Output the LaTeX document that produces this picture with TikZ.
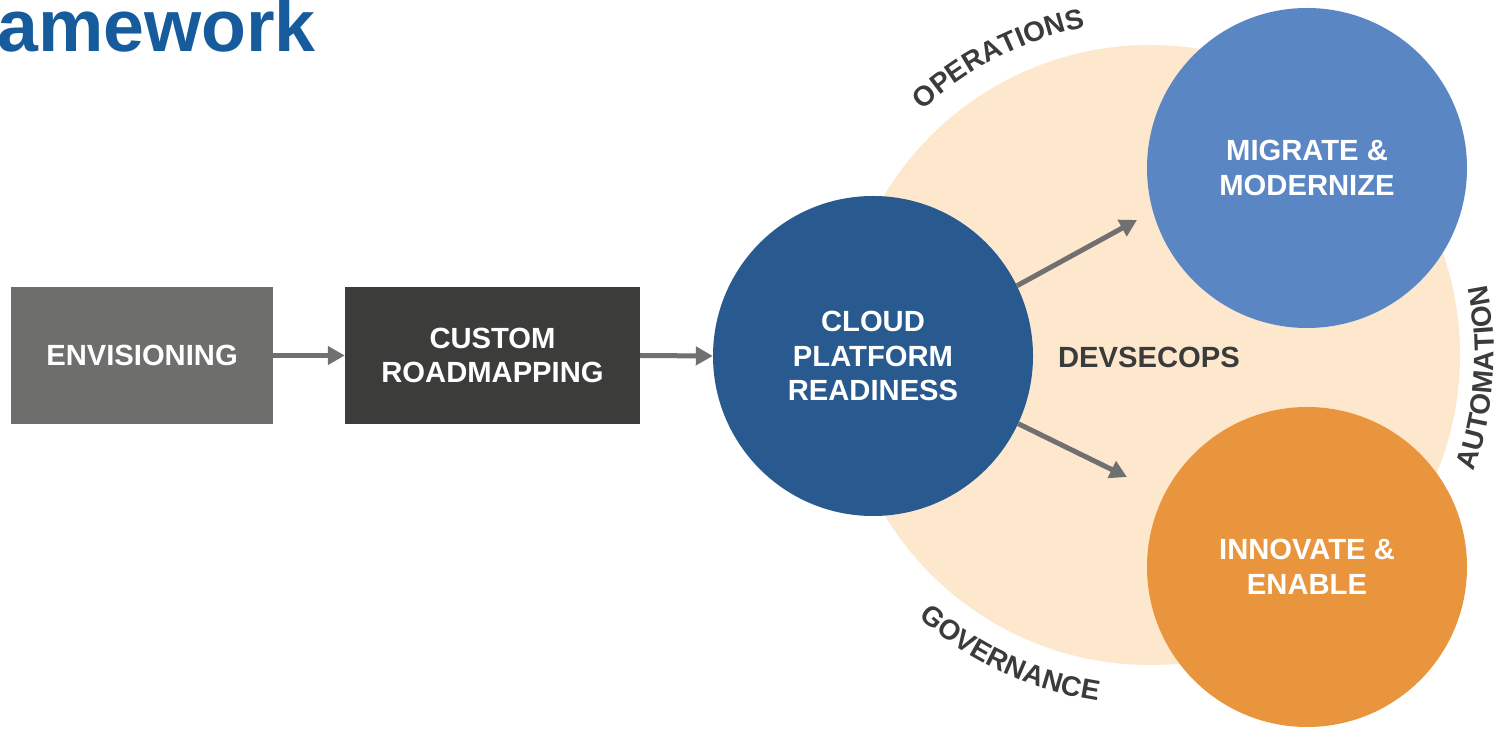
\documentclass[tikz,border=0pt]{standalone}
\usepackage{fontspec}
\setmainfont{Liberation Sans}
\usetikzlibrary{arrows.meta,decorations.text}
\definecolor{beige}{HTML}{FEE8CD}
\definecolor{envgray}{HTML}{6E6E6D}
\definecolor{roadgray}{HTML}{3C3D3B}
\definecolor{cloudblue}{HTML}{285A8F}
\definecolor{migblue}{HTML}{5A86C4}
\definecolor{innorange}{HTML}{E9953D}
\definecolor{arrgray}{HTML}{707070}
\definecolor{labdark}{HTML}{3B3B3B}
\definecolor{titleblue}{HTML}{165C9C}
\newcommand\crvfont{\fontsize{28}{32}\selectfont\bfseries}
\begin{document}
\begin{tikzpicture}[x=1pt,y=1pt,
  lab/.style={font=\fontsize{29.2}{34.5}\selectfont\bfseries, align=center, text=white},
  boxnode/.style={lab, rectangle, minimum height=137pt, inner sep=0pt},
  circnode/.style={lab, circle, minimum size=320pt, inner sep=0pt},
  arr/.style={draw=arrgray, line width=5pt, -{Triangle[length=17pt,width=18pt]}},
  curved/.style={decorate, decoration={text along path, text align=center, text color=labdark, text format delimiters={|}{|}}}
]
\useasboundingbox (0,0) rectangle (1512,728);
\fill[white] (0,0) rectangle (1512,728);
\node[anchor=base west, inner sep=0pt, text=titleblue, font=\fontsize{73.5}{80}\selectfont\bfseries] (title) at (-3,676) {amework};

\node[circle, fill=beige, minimum size=620pt, inner sep=0pt] (bg) at (1150,373) {};
\node[font=\fontsize{29.2}{34.5}\selectfont\bfseries, text=labdark] (devsecops) at (1149,371) {DEVSECOPS};

\path[curved, decoration={text={|\crvfont|OPERATIONS}}]
  (1150,373) ++(160:334) arc[start angle=160, end angle=74, radius=334];
\path[curved, decoration={text={|\crvfont|AUTOMATION}}]
  (1150,373) ++(-40:344) arc[start angle=-40, end angle=32, radius=344];
\path[curved, decoration={text={|\crvfont|GOVERNANCE}}]
  (1150,373) ++(205:350) arc[start angle=205, end angle=285, radius=350];

\node[boxnode, fill=envgray, minimum width=262pt] (env) at (142,372.5) {ENVISIONING};
\node[boxnode, fill=roadgray, minimum width=295pt] (road) at (492.5,372.5) {CUSTOM\\ROADMAPPING};
\node[circnode, fill=cloudblue] (cloud) at (873,372) {CLOUD\\PLATFORM\\READINESS};
\node[circnode, fill=migblue] (mig) at (1307,560) {MIGRATE \&\\MODERNIZE};
\node[circnode, fill=innorange] (inn) at (1307,161) {INNOVATE \&\\ENABLE};

\coordinate (t1) at (1137,508);
\coordinate (t2) at (1127,251);
\draw[arr] (env.east) -- (road.west);
\draw[arr] (road.east) -- (cloud.west);
\draw[arr] (cloud.26.6) -- (t1);
\draw[arr] (cloud.-25) -- (t2);
\end{tikzpicture}
\end{document}
